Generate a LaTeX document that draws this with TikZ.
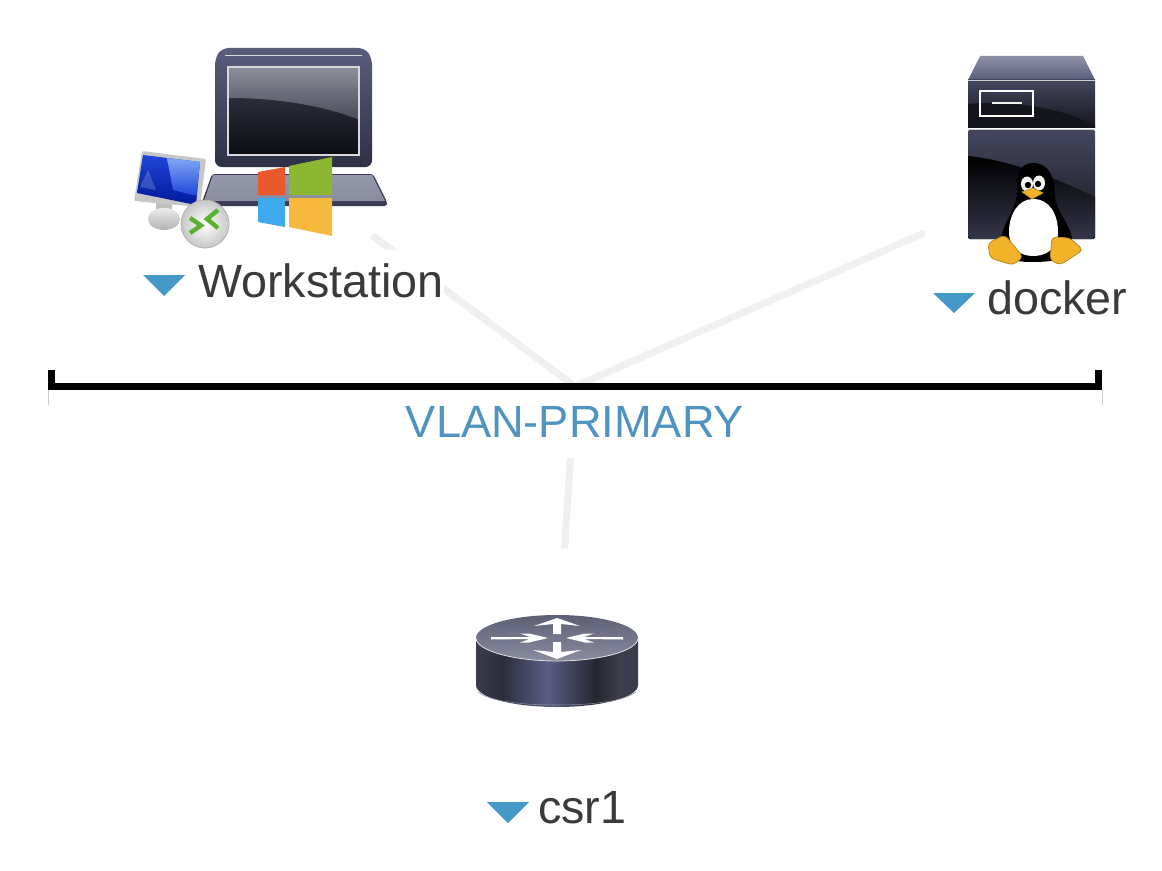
\documentclass[tikz,border=0pt]{standalone}
\usepackage{fontspec}
\setmainfont{Liberation Sans}
\usetikzlibrary{backgrounds}
\definecolor{lnk}{HTML}{F0F0F0}
\definecolor{tri}{HTML}{4499C8}
\definecolor{lbl}{HTML}{3A3A3A}
\definecolor{vlanc}{HTML}{4F94C0}
\definecolor{rb1}{HTML}{3A3C4C}
\definecolor{rb2}{HTML}{2C2D3B}
\definecolor{rb3}{HTML}{5A5E84}
\definecolor{rb4}{HTML}{26272F}
\definecolor{rb5}{HTML}{3C3E4C}
\definecolor{rbedge}{HTML}{8A8C9A}
\definecolor{winblue}{HTML}{3FA9EE}
\definecolor{winyel}{HTML}{F7BA3E}
\definecolor{winred}{HTML}{E85A2C}
\definecolor{wingreen}{HTML}{8BB733}
\definecolor{srvtopa}{HTML}{8E91A6}
\definecolor{srvtopb}{HTML}{5A5E7C}
\definecolor{srva}{HTML}{44465E}
\definecolor{srvb}{HTML}{14151C}
\definecolor{srvc}{HTML}{34364A}
\definecolor{pengy}{HTML}{F2B32A}
\definecolor{pengo}{HTML}{B78A18}
\definecolor{arrowgreen}{HTML}{5CB030}
\definecolor{bezela}{HTML}{5A5D7E}
\definecolor{bezelb}{HTML}{2E3045}
\definecolor{basea}{HTML}{9597AC}
\definecolor{baseb}{HTML}{8A8CA0}
\definecolor{baseedge}{HTML}{3A3C55}
\definecolor{scra}{HTML}{8C8E9A}
\definecolor{scrb}{HTML}{4A4B5A}
\definecolor{scrc}{HTML}{2C2D3A}
\definecolor{scrd}{HTML}{0C0C12}
\definecolor{rta}{HTML}{5D6075}
\definecolor{rtb}{HTML}{8A8DA0}
\definecolor{monb}{HTML}{001A9A}
\definecolor{monc}{HTML}{7FA8F5}
\definecolor{mond}{HTML}{1F45D8}
\pgfdeclarehorizontalshading{routerbody}{100bp}{
 color(0bp)=(rb1);
 color(25bp)=(rb1);color(33bp)=(rb2);color(47bp)=(rb3);color(62bp)=(rb4);color(69bp)=(rb5);color(75bp)=(rb1);color(100bp)=(rb1)}
\tikzset{
 x=0.75pt,y=-0.75pt,
 link/.style={draw=lnk,line width=5.25pt},
 anchorport/.style={circle,inner sep=0pt,draw=none,fill=none},
 marker/.style={fill=tri,draw=none},
 devlabel/.style={anchor=base west,inner sep=0pt,text=lbl,font=\fontsize{35}{40}\selectfont},
 chevron/.style={draw=arrowgreen,line width=3.3pt,line join=miter,line cap=butt},
 routerarrow/.style={fill=white,draw=none},
}
\begin{document}
\begin{tikzpicture}
\useasboundingbox (0,0) rectangle (1162,870);
% invisible device nodes (connector ends)
\node[anchorport,minimum size=143.7pt] (workstation) at (295,178) {};
\node[anchorport,minimum size=174pt] (docker) at (1031,186) {};
\node[anchorport,minimum size=178pt] (csr1) at (557,667) {};
% labels (the white boxes interrupt the links)
\node[devlabel,text height=35.5pt,text depth=5.5pt,fill=white] (wslabel) at (198,297) {Workstation};
\node[devlabel] (dockerlabel) at (987,314) {docker};
\node[devlabel] (csrlabel) at (538,823) {csr1};
\node[anchor=base,inner sep=0pt,text=vlanc,fill=white,font=\fontsize{33.9}{40}\selectfont,text height=35pt,text depth=15.75pt,minimum width=262pt] (vlanlabel) at (575,437) {VLAN-PRIMARY};
% VLAN bus
\node[fill=black,inner sep=0pt,minimum width=789pt,minimum height=5.4pt] (vlan) at (575,386.5) {};
\fill[black] (48,370) rectangle (55,390);
\fill[black] (1095,370) rectangle (1102,390);
\draw[black!20,line width=0.6pt] (48,390) -- (48,405);
\draw[black!20,line width=0.6pt] (1102,390) -- (1102,405);
\begin{pgfonlayer}{background}
\fill[white] (0,0) rectangle (1162,870);
\draw[link] (workstation) -- (vlan.center);
\draw[link] (docker) -- (vlan.center);
\draw[link] (csr1) -- (vlan.center);
\end{pgfonlayer}
\fill[marker] (143,275) -- (185,275) -- (164,296) -- cycle;
\fill[marker] (933,293) -- (975,293) -- (954,313) -- cycle;
\fill[marker] (487,802) -- (529,802) -- (508,823) -- cycle;
% ---- laptop
\fill[baseedge,rounded corners=2pt] (212,174) -- (373,174) -- (387,202) -- (387,206) -- (202,206) -- (202,202) -- cycle;
\shade[top color=basea,bottom color=baseb] (213,175) -- (372,175) -- (385,201) -- (204,201) -- cycle;
\shade[top color=bezela,bottom color=bezelb,rounded corners=5pt]
 (222,48) -- (365,48) -- (372,58) -- (372,167) -- (215,167) -- (215,58) -- cycle;
\draw[white!70!gray,line width=.6pt] (225,55) -- (362,55);
\shade[top color=scra,bottom color=scrb] (228,67) -- (359,67) -- (359,120) .. controls (320,104) and (270,98) .. (228,98) -- cycle;
\shade[top color=scrc,bottom color=scrd] (228,98) .. controls (270,98) and (320,104) .. (359,120) -- (359,155) -- (228,155) -- cycle;
\draw[white!70!gray,line width=.8pt] (228,67) rectangle (359,155);
% windows logo
\fill[winred] (258,172) -- (285,167) -- (285,195) -- (258,195) -- cycle;
\fill[wingreen] (289,166) -- (332,157) -- (332,195) -- (289,195) -- cycle;
\fill[winblue] (258,198) -- (285,198) -- (285,227) -- (258,222) -- cycle;
\fill[winyel] (289,198) -- (332,198) -- (332,236) -- (289,227) -- cycle;
% ---- remote monitor
\fill[black!25] (156,200) -- (172,202) -- (172,214) -- (156,214) -- cycle;
\shade[top color=black!8,bottom color=black!30] (164,219) ellipse (16 and 11);
\fill[black!22,rounded corners=1.5pt] (142,151) -- (206,159) -- (200,207) -- (134,201) -- cycle;
\shade[top color=mond,bottom color=monb] (143,155) -- (200,162) -- (196,205) -- (137,193) -- cycle;
\shade[top color=monc,bottom color=mond] (167,158) -- (200,162) -- (196.5,196) -- (173,190) -- cycle;
\fill[white,opacity=.18] (148,170) -- (156,190) -- (140,187) -- cycle;
\shade[inner color=white,outer color=black!22,draw=black!30,line width=.6pt] (205,224) circle (24);
\draw[chevron] (190,218) -- (201,225.5) -- (190,233);
\draw[chevron] (218,210) -- (207,219) -- (218,228);
% ---- server
\shade[top color=srvtopa,bottom color=srvtopb] (980,56) -- (1083,56) -- (1095,80) -- (968,80) -- cycle;
\shade[top color=srva,bottom color=srvb] (968,80) rectangle (1095,128);
\fill[srvb] (968,104) .. controls (1010,100) and (1065,108) .. (1095,126) -- (1095,128) -- (968,128) -- cycle;
\shade[top color=srva,bottom color=srvb,rounded corners=1pt] (968,130) rectangle (1095,239);
\shade[top color=black,bottom color=srvc] (968,156) .. controls (1010,160) and (1060,180) .. (1095,197) -- (1095,235) -- (1092,239) -- (971,239) -- (968,236) -- cycle;
\draw[white!60!gray,line width=.6pt] (968,80) -- (1095,80);
\draw[white!60!gray,line width=.6pt] (968,129) -- (1095,129);
\draw[white,line width=1.5pt] (980,91) rectangle (1033,116);
\draw[white!90!gray,line width=1.5pt] (992,103.5) -- (1022,103.5);
% penguin
\fill[black] (1033,163) .. controls (1050,163) and (1055,180) .. (1055,195) .. controls (1056,215) and (1075,225) .. (1072,250) .. controls (1070,262) and (1040,262) .. (1030,262) .. controls (1015,262) and (1000,258) .. (1000,245) .. controls (1002,220) and (1018,210) .. (1017,190) .. controls (1016,175) and (1020,163) .. (1033,163) -- cycle;
\fill[white] (1033,199) .. controls (1050,199) and (1058,215) .. (1058,232) .. controls (1058,250) and (1045,256) .. (1033,256) .. controls (1020,256) and (1009,248) .. (1009,232) .. controls (1009,215) and (1018,199) .. (1033,199) -- cycle;
\fill[white!92!gray] (1027,184) ellipse (6 and 7.5);
\fill[white!92!gray] (1039,183) ellipse (6 and 7.5);
\fill[black] (1028,185) circle (3.2);
\fill[black] (1038,184) circle (3.2);
\fill[pengy,draw=pengo,line width=.5pt,line join=round] (1022,192) -- (1033,188) -- (1043,193) -- (1032,199) -- cycle;
\fill[pengy,draw=pengo,line width=.6pt,line join=round,rounded corners=3pt] (988,243) -- (1005,235) -- (1023,257) -- (1013,265) -- (990,258) -- cycle;
\fill[pengy,draw=pengo,line width=.6pt,line join=round,rounded corners=3pt] (1052,237) -- (1070,238) -- (1083,250) -- (1060,265) -- (1050,260) -- cycle;
% ---- router
\path[shading=routerbody] (476,638) -- (476,685) .. controls (476,698) and (515,707) .. (557,707) .. controls (599,707) and (638,698) .. (638,685) -- (638,638) -- cycle;
\draw[rbedge,line width=.4pt] (478,692) .. controls (490,701) and (520,705) .. (557,705) .. controls (594,705) and (624,701) .. (636,692);
\shade[top color=rta,bottom color=rtb] (557,638) ellipse (81 and 23);
\draw[white!75!gray,line width=.6pt] (476,638) .. controls (476,651) and (515,661) .. (557,661) .. controls (599,661) and (638,651) .. (638,638);
% router arrows
\fill[routerarrow] (491,637) -- (530,637) -- (520,633.5) -- (529,633.5) -- (548,638) -- (529,642.5) -- (520,642.5) -- (530,639) -- (491,639.5) -- cycle;
\fill[routerarrow] (623,637) -- (584,637) -- (594,633.5) -- (585,633.5) -- (566,638) -- (585,642.5) -- (594,642.5) -- (584,639) -- (623,639.5) -- cycle;
\fill[routerarrow] (553,634) -- (553,624) -- (534,626) -- (557,618) -- (580,626) -- (561,624) -- (561,634) -- cycle;
\fill[routerarrow] (553,642) -- (553,652) -- (533,650) -- (557,659) -- (581,650) -- (561,652) -- (561,642) -- cycle;
\end{tikzpicture}
\end{document}
